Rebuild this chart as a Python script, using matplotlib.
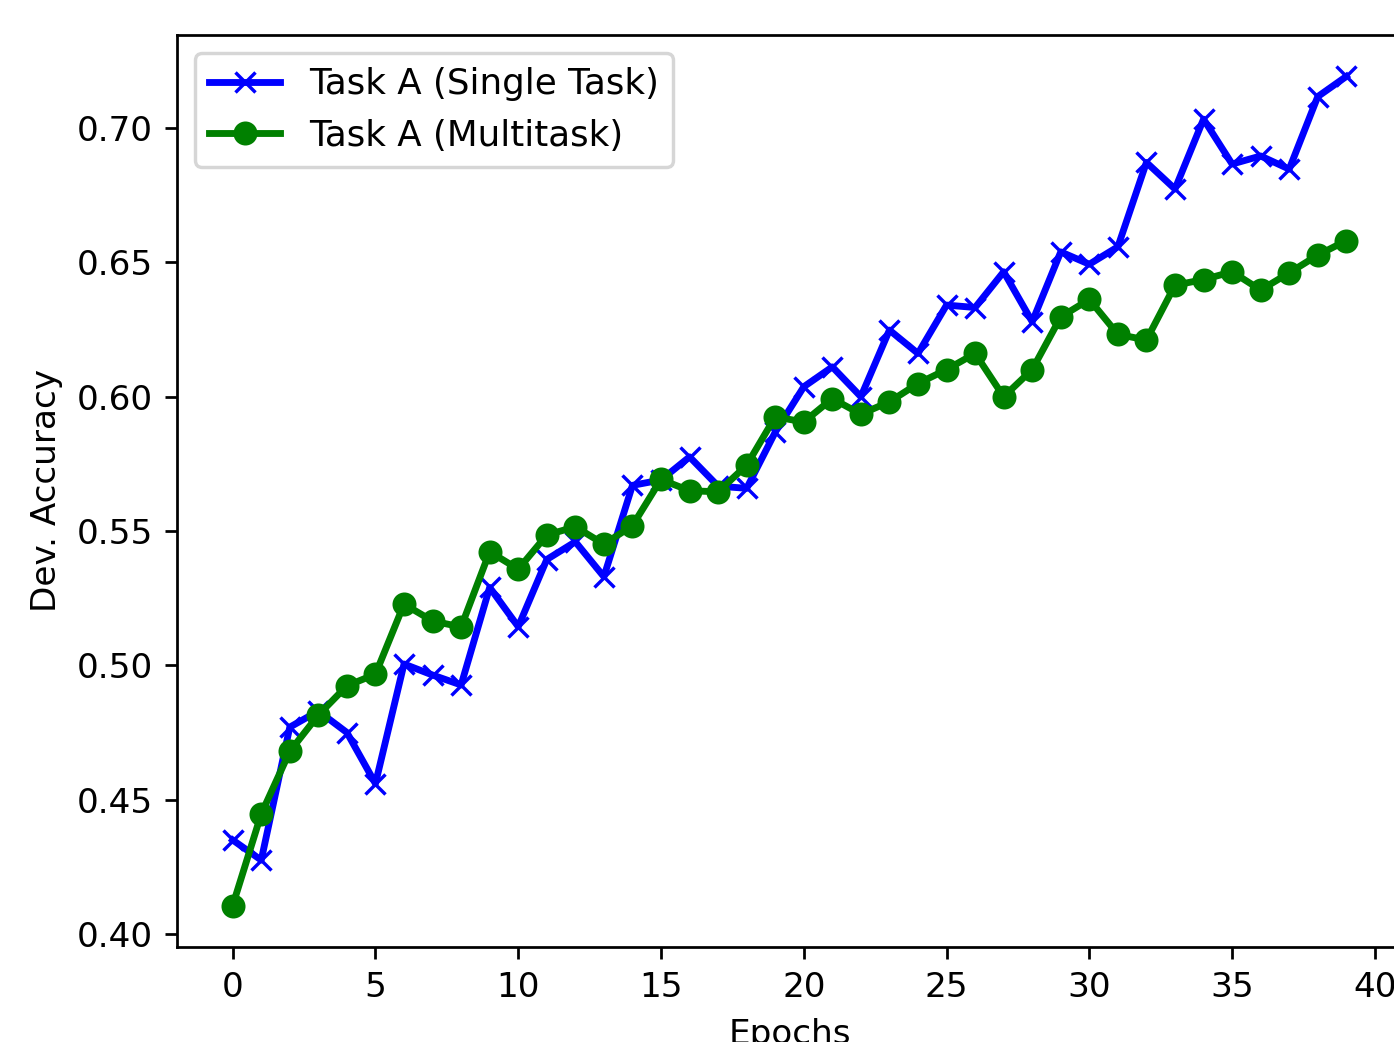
import matplotlib
matplotlib.use('Agg')
import matplotlib.pyplot as plt

# Dữ liệu
epochs = list(range(40))
single_task = [0.435, 0.4275, 0.477, 0.483, 0.475, 0.456, 0.5005, 0.4964, 0.4927, 0.529,
               0.5144, 0.5394, 0.546, 0.533, 0.567, 0.569, 0.5776, 0.5667, 0.5659, 0.5868,
               0.6037, 0.6111, 0.600, 0.6248, 0.6161, 0.6341, 0.6332, 0.6465, 0.6279, 0.6539,
               0.6493, 0.6558, 0.6872, 0.6773, 0.7033, 0.6866, 0.6896, 0.6847, 0.7117, 0.7192]
multitask = [0.4106, 0.4447, 0.468, 0.4815, 0.4924, 0.4967, 0.5228, 0.5165, 0.5143, 0.5423,
             0.5358, 0.5485, 0.5516, 0.5451, 0.552, 0.5692, 0.565, 0.5646, 0.5745, 0.5925,
             0.5906, 0.5993, 0.5935, 0.5981, 0.6049, 0.6101, 0.6161, 0.600, 0.6101, 0.6297,
             0.6362, 0.6232, 0.6211, 0.6415, 0.6436, 0.6465, 0.6397, 0.6461, 0.6527, 0.6581]

fig = plt.figure(figsize=(1394 / 247, 1042 / 247), dpi=247)
ax = fig.add_axes([177 / 1394, 95 / 1042, 1225 / 1394, 912 / 1042])

ax.plot(epochs, single_task, 'b-x', linewidth=2, label='Task A (Single Task)')
ax.plot(epochs, multitask, 'g-o', linewidth=2, label='Task A (Multitask)')

ax.set_xlabel('Epochs')
ax.set_ylabel('Dev. Accuracy')
ax.legend(loc='upper left', fontsize=10.4)

fig.savefig('out.png', dpi=247)
